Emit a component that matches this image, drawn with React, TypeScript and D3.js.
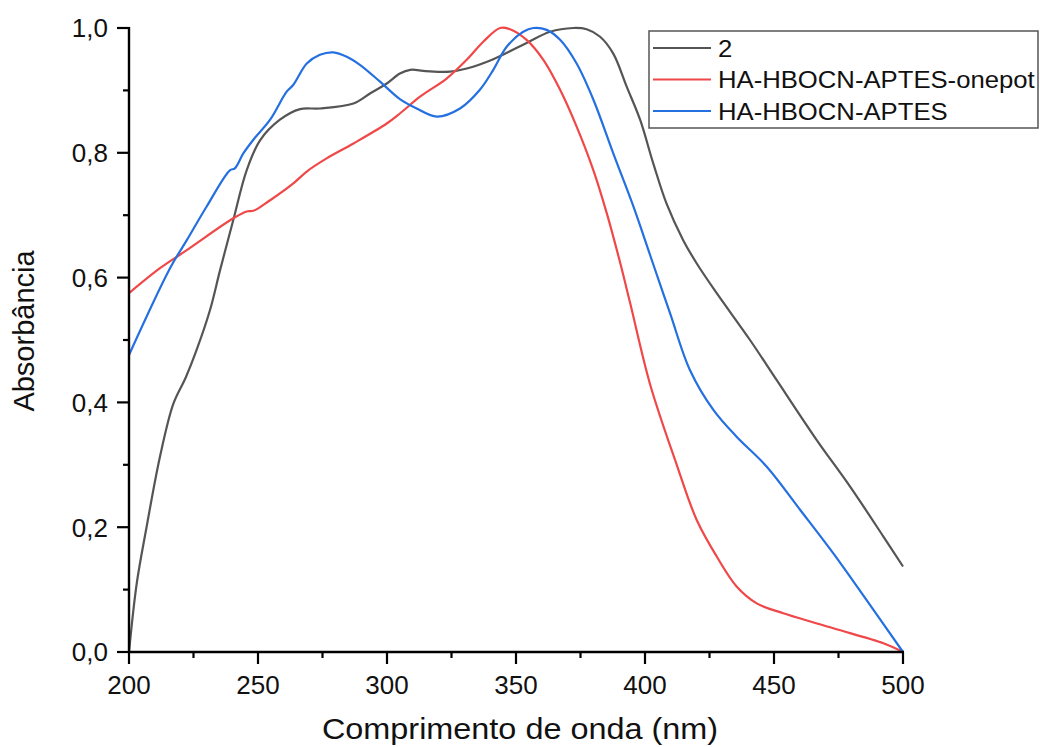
import React from "react";
import * as d3 from "d3";

// Series "2" (black)
const blackX = [200, 203, 206.8, 212, 217.2, 222, 226.2, 231.4, 235.3, 240.4, 245.6, 250.8, 258.5, 266.3, 274, 287, 293.4, 299.9, 305, 309, 315, 324.4, 330.9, 341.2, 354.1, 363.2, 372.2, 377.4, 382.6, 387.7, 392.9, 398.1, 403.2, 408.4, 414.8, 420, 427.8, 440.7, 451, 466.5, 479.5, 492.4, 500];
const blackY = [0, 0.11, 0.2, 0.313, 0.398, 0.44, 0.484, 0.548, 0.612, 0.692, 0.772, 0.82, 0.853, 0.87, 0.871, 0.879, 0.895, 0.911, 0.927, 0.933, 0.931, 0.93, 0.935, 0.95, 0.976, 0.994, 1.0, 0.998, 0.986, 0.959, 0.906, 0.853, 0.783, 0.718, 0.66, 0.623, 0.575, 0.5, 0.436, 0.34, 0.265, 0.185, 0.137];

// HA-HBOCN-APTES-onepot (red)
const redX = [200, 212, 222.4, 240.4, 245.6, 248.2, 254.7, 263.7, 268.9, 276.6, 287, 299.9, 305, 312.8, 323.1, 330.9, 337.3, 343.8, 347.7, 354.1, 360.6, 367.1, 373.5, 380, 385.2, 390.3, 394.2, 401.9, 412.3, 420, 427.8, 435.5, 443.3, 453.6, 473, 492.4, 500];
const redY = [0.575, 0.615, 0.644, 0.695, 0.706, 0.707, 0.724, 0.751, 0.77, 0.791, 0.815, 0.847, 0.863, 0.89, 0.919, 0.949, 0.978, 1.0, 0.998, 0.981, 0.949, 0.901, 0.842, 0.772, 0.703, 0.625, 0.56, 0.43, 0.3, 0.212, 0.153, 0.105, 0.078, 0.062, 0.038, 0.014, 0.0];

// HA-HBOCN-APTES (blue)
const blueX = [200, 215.9, 222.4, 230.1, 239.1, 241, 244.3, 248.2, 254.7, 261.1, 263.7, 268.9, 274, 279.2, 284.4, 289.5, 297.3, 305, 311.5, 319.3, 328.3, 336, 341.2, 346.4, 352.8, 356.7, 361.9, 367.1, 373.5, 380, 387.7, 395.5, 401.9, 409.7, 417.4, 426.5, 435.5, 447.2, 460.1, 473, 485.9, 500];
const blueY = [0.476, 0.615, 0.66, 0.714, 0.772, 0.775, 0.799, 0.821, 0.853, 0.898, 0.909, 0.943, 0.957, 0.961, 0.954, 0.941, 0.914, 0.886, 0.871, 0.858, 0.871, 0.901, 0.933, 0.97, 0.994, 1.0, 0.997, 0.981, 0.943, 0.885, 0.799, 0.714, 0.637, 0.543, 0.452, 0.388, 0.345, 0.297, 0.228, 0.158, 0.083, 0.0];

const seriesNames = ["2", "HA-HBOCN-APTES-onepot", "HA-HBOCN-APTES"];
const seriesColors = ["#555555", "#f04848", "#2470e0"];

const xMajorTicks = [200, 250, 300, 350, 400, 450, 500];
const xMinorTicks = [225, 275, 325, 375, 425, 475];
const yMajorTicks = [0, 0.2, 0.4, 0.6, 0.8, 1.0];
const yMinorTicks = [0.1, 0.3, 0.5, 0.7, 0.9];

const xTitle = "Comprimento de onda (nm)";
const yTitle = "Absorbância";

const FONT = "'Liberation Sans', Arial, sans-serif";

export default function App() {
  const W = 1040, H = 747;
  const x = d3.scaleLinear().domain([200, 500]).range([129, 903]);
  const y = d3.scaleLinear().domain([0, 1]).range([652, 28]);
  const fmt = (v: number) => d3.format(".1f")(v).replace(".", ",");

  const series = [
    { xs: blackX, ys: blackY },
    { xs: redX, ys: redY },
    { xs: blueX, ys: blueY },
  ];
  const line = d3
    .line<[number, number]>()
    .x((d) => x(d[0]))
    .y((d) => y(d[1]))
    .curve(d3.curveCatmullRom.alpha(0.5));

  const legendRows = [48, 79.5, 111];

  return (
    <svg
      width={W}
      height={H}
      style={{ position: "absolute", left: 0, top: 0, background: "#fff" }}
      fontFamily={FONT}
    >
      <rect x={0} y={0} width={W} height={H} fill="#fff" />
      {series.map((s, i) => (
        <path
          key={i}
          d={line(s.xs.map((v, j) => [v, s.ys[j]] as [number, number])) || ""}
          fill="none"
          stroke={seriesColors[i]}
          strokeWidth={2.2}
          strokeLinejoin="round"
        />
      ))}

      {/* axes */}
      <line x1={129} x2={129} y1={y(1) - 1} y2={653} stroke="#000" strokeWidth={2.4} />
      <line x1={128} x2={x(500) + 1} y1={652} y2={652} stroke="#000" strokeWidth={2.4} />
      {xMajorTicks.map((t) => (
        <g key={"xm" + t}>
          <line x1={x(t)} x2={x(t)} y1={652} y2={664} stroke="#000" strokeWidth={2.2} />
          <text x={x(t)} y={694} textAnchor="middle" fontSize={26} fill="#111">
            {t}
          </text>
        </g>
      ))}
      {xMinorTicks.map((t) => (
        <line key={"xn" + t} x1={x(t)} x2={x(t)} y1={652} y2={658} stroke="#000" strokeWidth={2.2} />
      ))}
      {yMajorTicks.map((t) => (
        <g key={"ym" + t}>
          <line x1={117} x2={129} y1={y(t)} y2={y(t)} stroke="#000" strokeWidth={2.2} />
          <text x={108} y={y(t)} dy="0.36em" textAnchor="end" fontSize={26} fill="#111">
            {fmt(t)}
          </text>
        </g>
      ))}
      {yMinorTicks.map((t) => (
        <line key={"yn" + t} x1={123} x2={129} y1={y(t)} y2={y(t)} stroke="#000" strokeWidth={2.2} />
      ))}

      {/* titles */}
      <g transform="translate(520,739) scale(1.08,1)">
        <text x={0} y={0} textAnchor="middle" fontSize={30} fill="#111">
          {xTitle}
        </text>
      </g>
      <text
        transform="translate(34,331) rotate(-90)"
        textAnchor="middle"
        fontSize={29}
        fill="#111"
      >
        {yTitle}
      </text>

      {/* legend */}
      <rect x={649} y={31} width={389} height={97} fill="#fff" stroke="#555" strokeWidth={1.5} />
      {seriesNames.map((n, i) => (
        <g key={n}>
          <line x1={653} x2={711} y1={legendRows[i]} y2={legendRows[i]} stroke={seriesColors[i]} strokeWidth={2.2} />
          <g transform={`translate(718,${legendRows[i]}) scale(1.07,1)`}>
            <text x={0} y={0} dy="0.36em" fontSize={24} fill="#111">
              {n}
            </text>
          </g>
        </g>
      ))}
    </svg>
  );
}
